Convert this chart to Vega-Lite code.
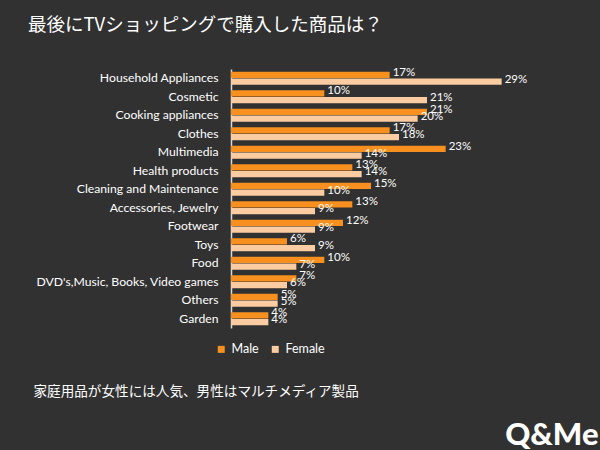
{
  "$schema": "https://vega.github.io/schema/vega-lite/v6.json",
  "width": 280,
  "height": 259,
  "autosize": "none",
  "padding": {"left": 231, "top": 69, "right": 89, "bottom": 122},
  "background": "#313131",
  "title": {
    "text": "最後にTVショッピングで購入した商品は？",
    "anchor": "start",
    "frame": "group",
    "dx": -203,
    "offset": 32,
    "font": "Noto Sans CJK JP",
    "fontSize": 18.5,
    "fontWeight": "normal",
    "color": "#ffffff"
  },
  "data": {
    "values": [
      {"item": "Household Appliances", "sex": "Male", "value": 0.17},
      {"item": "Household Appliances", "sex": "Female", "value": 0.29},
      {"item": "Cosmetic", "sex": "Male", "value": 0.10},
      {"item": "Cosmetic", "sex": "Female", "value": 0.21},
      {"item": "Cooking appliances", "sex": "Male", "value": 0.21},
      {"item": "Cooking appliances", "sex": "Female", "value": 0.20},
      {"item": "Clothes", "sex": "Male", "value": 0.17},
      {"item": "Clothes", "sex": "Female", "value": 0.18},
      {"item": "Multimedia", "sex": "Male", "value": 0.23},
      {"item": "Multimedia", "sex": "Female", "value": 0.14},
      {"item": "Health products", "sex": "Male", "value": 0.13},
      {"item": "Health products", "sex": "Female", "value": 0.14},
      {"item": "Cleaning and Maintenance", "sex": "Male", "value": 0.15},
      {"item": "Cleaning and Maintenance", "sex": "Female", "value": 0.10},
      {"item": "Accessories, Jewelry", "sex": "Male", "value": 0.13},
      {"item": "Accessories, Jewelry", "sex": "Female", "value": 0.09},
      {"item": "Footwear", "sex": "Male", "value": 0.12},
      {"item": "Footwear", "sex": "Female", "value": 0.09},
      {"item": "Toys", "sex": "Male", "value": 0.06},
      {"item": "Toys", "sex": "Female", "value": 0.09},
      {"item": "Food", "sex": "Male", "value": 0.10},
      {"item": "Food", "sex": "Female", "value": 0.07},
      {"item": "DVD's,Music, Books, Video games", "sex": "Male", "value": 0.07},
      {"item": "DVD's,Music, Books, Video games", "sex": "Female", "value": 0.06},
      {"item": "Others", "sex": "Male", "value": 0.05},
      {"item": "Others", "sex": "Female", "value": 0.05},
      {"item": "Garden", "sex": "Male", "value": 0.04},
      {"item": "Garden", "sex": "Female", "value": 0.04}
    ]
  },
  "encoding": {
    "y": {
      "field": "item",
      "type": "nominal",
      "sort": null,
      "scale": {"paddingInner": 0.3, "paddingOuter": 0.15},
      "axis": {
        "title": "Q&Me",
        "titleAngle": 0,
        "titleX": 367,
        "titleY": 375,
        "titleAlign": "right",
        "titleBaseline": "alphabetic",
        "titleFont": "Lato",
        "titleFontSize": 31,
        "titleFontWeight": 900,
        "titleColor": "#ffffff",
        "ticks": false,
        "labelPadding": 13,
        "labelLimit": 300,
        "labelFont": "Lato",
        "labelFontSize": 12.2,
        "labelColor": "#ffffff",
        "domainColor": "#d9d9d9",
        "domainWidth": 1.5,
        "grid": false
      }
    },
    "yOffset": {
      "field": "sex",
      "type": "nominal",
      "sort": ["Male", "Female"],
      "scale": {"paddingInner": 0.1}
    },
    "x": {
      "field": "value",
      "type": "quantitative",
      "scale": {"domain": [0, 0.3]},
      "axis": {
        "title": "家庭用品が女性には人気、男性はマルチメディア製品",
        "titleX": -198,
        "titleY": 67,
        "titleAlign": "left",
        "titleBaseline": "alphabetic",
        "titleFont": "Noto Sans CJK JP",
        "titleFontSize": 13.6,
        "titleFontWeight": "normal",
        "titleColor": "#ffffff",
        "labels": false,
        "ticks": false,
        "domain": false,
        "grid": false
      }
    }
  },
  "layer": [
    {
      "mark": {"type": "bar"},
      "encoding": {
        "color": {
          "field": "sex",
          "type": "nominal",
          "sort": ["Male", "Female"],
          "scale": {"domain": ["Male", "Female"], "range": ["#F7901E", "#FBCBA2"]},
          "legend": {
            "title": null,
            "orient": "none",
            "direction": "horizontal",
            "legendX": -16,
            "legendY": 274,
            "symbolType": "square",
            "symbolSize": 49,
            "symbolStrokeWidth": 0,
            "labelFont": "Lato",
            "labelFontSize": 12.5,
            "labelColor": "#ffffff",
            "columnPadding": 10,
            "labelOffset": 4
          }
        }
      }
    },
    {
      "mark": {
        "type": "text",
        "align": "left",
        "baseline": "middle",
        "dx": 3,
        "dy": -2,
        "font": "Lato",
        "fontSize": 11.5,
        "color": "#ffffff"
      },
      "encoding": {
        "text": {"field": "value", "type": "quantitative", "format": ".0%"}
      }
    }
  ],
  "config": {
    "view": {"stroke": null}
  }
}
